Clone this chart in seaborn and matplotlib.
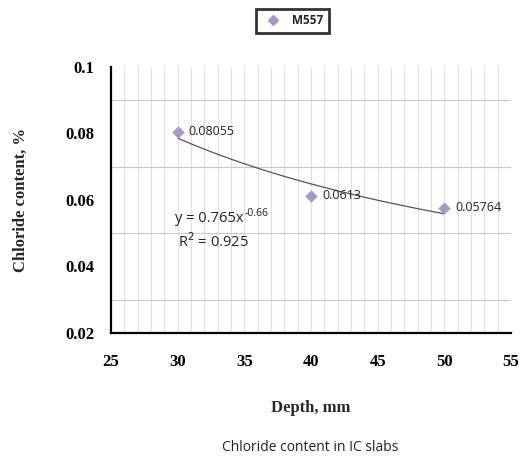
import numpy as np
import pandas as pd
import matplotlib
matplotlib.use("Agg")
import matplotlib.pyplot as plt
import seaborn as sns
from matplotlib.ticker import MultipleLocator

# data
depth = [30, 40, 50]
chloride = [0.08055, 0.0613, 0.05764]
point_labels = ["0.08055", "0.0613", "0.05764"]
x_ticks = [25, 30, 35, 40, 45, 50, 55]
y_ticks = [0.02, 0.04, 0.06, 0.08, 0.1]
y_tick_labels = ["0.02", "0.04", "0.06", "0.08", "0.1"]
series_name = "M557"
x_label = "Depth, mm"
y_label = "Chloride content, %"
caption = "Chloride content in IC slabs"
eq_base = "y = 0.765x"
eq_exp = "-0.66"
r2_text = "R$^{2}$ = 0.925"

sns.set_style("white")
plt.rcParams["font.family"] = ["Liberation Serif", "DejaVu Serif"]

df = pd.DataFrame({"depth": depth, "chloride": chloride, "series": series_name})

# power-law trend fitted from the data
b, ln_a = np.polyfit(np.log(depth), np.log(chloride), 1)
xs = np.linspace(min(depth), max(depth), 100)
trend = pd.DataFrame({"depth": xs, "fit": np.exp(ln_a) * xs ** b})

fig = plt.figure(figsize=(5.2, 4.65), dpi=100)
ax = fig.add_axes([0.2135, 0.284, 0.769, 0.572])

mcolor = "#a497c9"
sns.lineplot(data=trend, x="depth", y="fit", ax=ax, color="#555555", linewidth=0.9,
             legend=False)
sns.scatterplot(data=df, x="depth", y="chloride", ax=ax, marker="D", s=40,
                color=mcolor, edgecolor=mcolor, linewidth=0, zorder=5, legend=False)

ax.set_xlim(25, 55)
ax.set_ylim(0.02, 0.1)
ax.set_xticks(x_ticks)
ax.set_xticklabels([str(v) for v in x_ticks])
ax.xaxis.set_minor_locator(MultipleLocator(1))
ax.set_yticks(y_ticks)
ax.set_yticklabels(y_tick_labels)
ax.yaxis.set_minor_locator(MultipleLocator(0.01))

# gridlines
for xv in np.arange(26, 55, 1):
    ax.axvline(xv, color="#e0e0e0", linewidth=0.8, zorder=0)
for yv in [0.03, 0.05, 0.07, 0.09]:
    ax.axhline(yv, color="#c8c8c8", linewidth=0.8, zorder=0)

for s in ["top", "right"]:
    ax.spines[s].set_visible(False)
for s in ["left", "bottom"]:
    ax.spines[s].set_color("black")
    ax.spines[s].set_linewidth(1.6)

ax.tick_params(axis="both", which="both", direction="in", colors="black")
ax.tick_params(axis="x", which="major", length=3, width=0.8, pad=15, labelsize=12)
ax.tick_params(axis="x", which="minor", length=3, width=0.8)
ax.tick_params(axis="y", which="major", length=4, width=0.8, pad=12, labelsize=12)
ax.tick_params(axis="y", which="minor", length=4, width=0.8)
for lab in ax.get_xticklabels() + ax.get_yticklabels():
    lab.set_fontweight("bold")
    lab.set_family(["Liberation Serif", "DejaVu Serif"])

ax.set_xlabel(x_label, fontsize=12, fontweight="bold", labelpad=22)
ax.set_ylabel(y_label, fontsize=12, fontweight="bold", labelpad=26)

sans = ["Open Sans", "DejaVu Sans"]
for xv, yv, t in zip(depth, chloride, point_labels):
    ax.annotate(t, (xv, yv), xytext=(8, 0), textcoords="offset points",
                ha="left", va="center", fontsize=9, family=sans, color="#222222")

eq = ax.text(0.16, 0.43, eq_base, transform=ax.transAxes, fontsize=10.5, family=sans,
             color="#222222", ha="left", va="center")
ax.annotate(eq_exp, xy=(1, 1), xycoords=eq, xytext=(1, -1.5), textcoords="offset points",
            fontsize=7.5, family=sans, color="#222222", ha="left", va="center")
ax.text(0.255, 0.345, r2_text, transform=ax.transAxes, fontsize=10.5, family=sans,
        color="#222222", ha="center", va="center")

fig.text(0.596, 0.038, caption, fontsize=10, family=sans, ha="center", va="center",
         color="#222222")

handle = plt.Line2D([], [], marker="D", linestyle="none", color=mcolor,
                    markersize=5)
leg = fig.legend([handle], [series_name], loc="center", bbox_to_anchor=(0.562, 0.955),
                 frameon=True, fancybox=False, handletextpad=0.6,
                 prop={"family": sans, "size": 8.5, "weight": "bold"},
                 borderpad=0.45, handlelength=2.0, borderaxespad=0)
leg.get_frame().set_edgecolor("black")
leg.get_frame().set_linewidth(2.0)

fig.savefig("out.png", dpi=100)
